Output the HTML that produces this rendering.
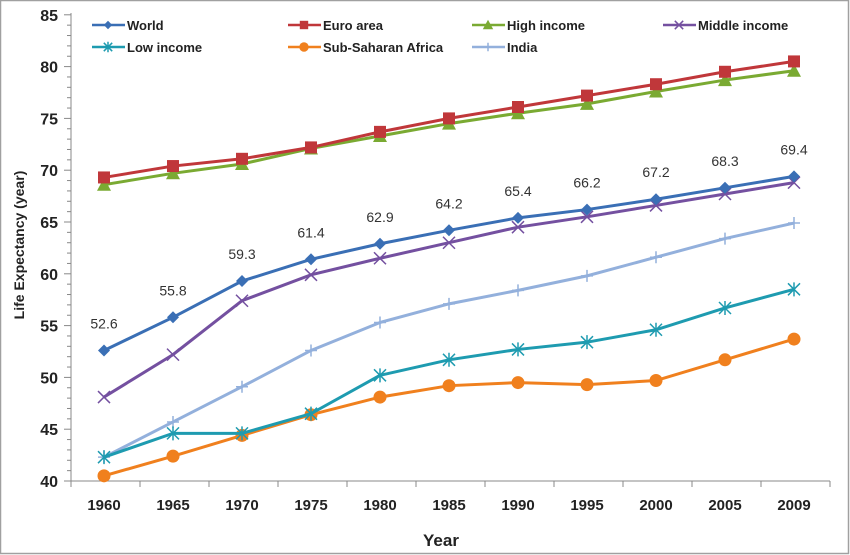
<!DOCTYPE html>
<html><head><meta charset="utf-8"><style>
html,body{margin:0;padding:0;background:#fff}
svg{display:block;font-family:"Liberation Sans",sans-serif}
</style></head><body>
<svg id="c" width="850" height="555" xmlns="http://www.w3.org/2000/svg">
<rect x="0.5" y="0.5" width="848" height="553" fill="#fff" stroke="#a0a0a0" stroke-width="1.5"/>
<g id="g"></g>
<text x="441" y="546" font-size="17" font-weight="bold" text-anchor="middle" fill="#222">Year</text>
<text transform="translate(24,245) rotate(-90)" font-size="14" font-weight="bold" text-anchor="middle" fill="#222">Life Expectancy (year)</text>
</svg>
<script>
const g=document.getElementById('g');let s='';
const X=i=>104+i*69, Y=v=>481-(v-40)*10.36;
s+=`<line x1="71" y1="13" x2="71" y2="481" stroke="#888"/><line x1="71" y1="481" x2="830" y2="481" stroke="#888"/>`;
for(let v=40;v<=85;v++){const y=Y(v);const maj=v%5==0;s+=`<line x1="${maj?64:67}" y1="${y}" x2="71" y2="${y}" stroke="#888"/>`;
if(maj)s+=`<text x="58" y="${y+6}" font-size="16" font-weight="bold" text-anchor="end" fill="#222">${v}</text>`;}
const yrs=[1960,1965,1970,1975,1980,1985,1990,1995,2000,2005,2009];
for(let i=0;i<=11;i++){const x=71+i*69;s+=`<line x1="${x}" y1="481" x2="${x}" y2="487" stroke="#888"/>`;}
yrs.forEach((y,i)=>s+=`<text x="${X(i)}" y="510" font-size="15" font-weight="bold" text-anchor="middle" fill="#222">${y}</text>`);
const ser=[
["#3a6fb5","d",[52.6,55.8,59.3,61.4,62.9,64.2,65.4,66.2,67.2,68.3,69.4],"World",92,25],
["#c0373a","s",[69.3,70.4,71.1,72.2,73.7,75,76.1,77.2,78.3,79.5,80.5],"Euro area",288,25],
["#7aaa32","t",[68.6,69.7,70.6,72.1,73.3,74.5,75.5,76.4,77.6,78.7,79.6],"High income",472,25],
["#7450a0","x",[48.1,52.2,57.4,59.9,61.5,63,64.5,65.5,66.6,67.7,68.8],"Middle income",663,25],
["#1e9bb0","a",[42.3,44.6,44.6,46.5,50.2,51.7,52.7,53.4,54.6,56.7,58.5],"Low income",92,47],
["#f0801e","c",[40.5,42.4,44.4,46.4,48.1,49.2,49.5,49.3,49.7,51.7,53.7],"Sub-Saharan Africa",288,47],
["#93b0dc","p",[42.3,45.7,49.1,52.6,55.3,57.1,58.4,59.8,61.6,63.4,64.9],"India",472,47]];
function mk(t,x,y,c,sc){sc=sc||1;const r=6*sc;
if(t=='d')return `<polygon points="${x},${y-r} ${x+r},${y} ${x},${y+r} ${x-r},${y}" fill="${c}"/>`;
if(t=='s')return `<rect x="${x-r}" y="${y-r}" width="${2*r}" height="${2*r}" fill="${c}"/>`;
if(t=='t')return `<polygon points="${x},${y-r-1} ${x+r+1},${y+r} ${x-r-1},${y+r}" fill="${c}"/>`;
if(t=='c')return `<circle cx="${x}" cy="${y}" r="${r+0.5}" fill="${c}"/>`;
if(t=='x')return `<path d="M${x-r} ${y-r}L${x+r} ${y+r}M${x-r} ${y+r}L${x+r} ${y-r}" stroke="${c}" stroke-width="1.5"/>`;
if(t=='p')return `<path d="M${x-r} ${y}H${x+r}M${x} ${y-r}V${y+r}" stroke="${c}" stroke-width="1.5"/>`;
if(t=='a')return `<path d="M${x-r} ${y-r}L${x+r} ${y+r}M${x-r} ${y+r}L${x+r} ${y-r}M${x} ${y-r-1}V${y+r+1}" stroke="${c}" stroke-width="1.5"/>`;}
ser.slice().reverse().forEach(([c,t,d,n,lx,ly])=>{
s+=`<polyline fill="none" stroke="${c}" stroke-width="3" points="${d.map((v,i)=>X(i)+','+Y(v)).join(' ')}"/>`;
d.forEach((v,i)=>s+=mk(t,X(i),Y(v),c));
s+=`<line x1="${lx}" y1="${ly}" x2="${lx+33}" y2="${ly}" stroke="${c}" stroke-width="2.5"/>`+mk(t,lx+16,ly,c,0.7);
s+=`<text x="${lx+35}" y="${ly+5}" font-size="13" font-weight="bold" fill="#222">${n}</text>`;});
ser[0][2].forEach((v,i)=>s+=`<text x="${X(i)}" y="${Y(v)-22}" font-size="14" text-anchor="middle" fill="#333">${v.toFixed(1)}</text>`);
g.innerHTML=s;
</script>
</body></html>
